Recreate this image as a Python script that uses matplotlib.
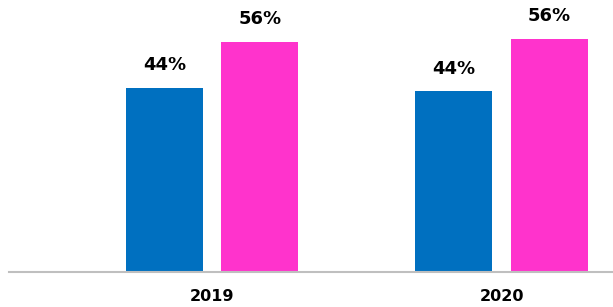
import matplotlib.pyplot as plt
import numpy as np

years = ['2019', '2020']
blue_vals = [44.4, 43.6]
pink_vals = [55.6, 56.4]
blue_labels = ['44%', '44%']
pink_labels = ['56%', '56%']

fig = plt.figure(figsize=(6.13, 3.07), dpi=100)
ax = fig.add_axes([8.6 / 613, 35 / 307, 1 - 8.6 / 613, 272 / 307])

x = np.arange(len(years))
w = 0.266
off = 0.165
b1 = ax.bar(x - off, blue_vals, w, color='#0070C0')
b2 = ax.bar(x + off, pink_vals, w, color='#FF33CC')

for bars, labels in [(b1, blue_labels), (b2, pink_labels)]:
    for bar, lab in zip(bars, labels):
        ax.annotate(lab, (bar.get_x() + bar.get_width() / 2, bar.get_height()),
                    xytext=(0, 10), textcoords='offset points',
                    ha='center', va='bottom', fontsize=13, fontweight='bold')

ax.set_xlim(-0.703, 1.385)
ax.set_ylim(0, 65.7)
ax.set_xticks(x)
ax.set_xticklabels(years, fontsize=11.5, fontweight='bold')
ax.tick_params(axis='x', length=0, pad=12)
ax.set_yticks([])
for s in ['top', 'right', 'left']:
    ax.spines[s].set_visible(False)
ax.spines['bottom'].set_color('#BFBFBF')
ax.spines['bottom'].set_linewidth(1.5)

fig.savefig('out.png', dpi=100)
